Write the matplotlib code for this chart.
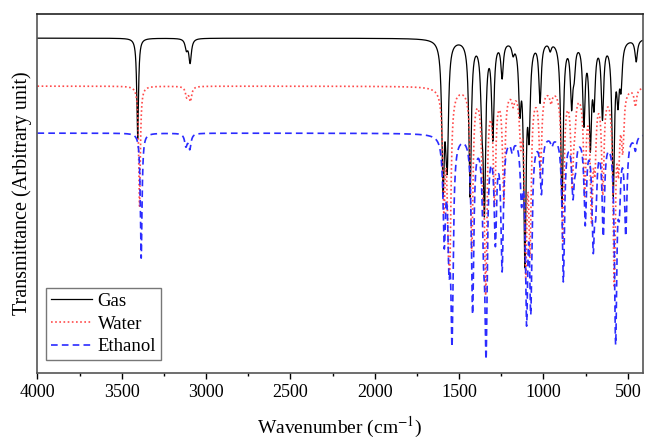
import numpy as np
import matplotlib
matplotlib.use("Agg")
import matplotlib.pyplot as plt
from matplotlib.ticker import MultipleLocator

plt.rcParams['font.family'] = ['Liberation Serif', 'DejaVu Serif']
plt.rcParams['mathtext.fontset'] = 'stix'

# ---- data: band positions (cm-1) and band intensities (arbitrary units) ----
series_names = ["Gas", "Water", "Ethanol"]
baselines = [335, 287, 240]

gas_pos = [3406, 3117, 3095, 1595, 1578, 1570, 1435, 1365, 1350, 1300, 1245, 1180,
           1140, 1110, 1085, 1020, 960, 890, 833, 818, 760, 722, 700, 650, 586,
           558, 540, 450]
gas_int = [100, 10, 24, 140, 35, 100, 155, 55, 160, 95, 35, 10,
           60, 215, 80, 60, 8, 165, 60, 25, 80, 100, 55, 75, 150,
           50, 40, 22]

water_pos = [3395, 3115, 3093, 1590, 1565, 1555, 1425, 1360, 1342, 1290, 1235, 1180,
             1135, 1105, 1080, 1018, 955, 885, 830, 815, 755, 715, 695, 648, 580,
             555, 530, 455]
water_int = [120, 10, 14, 110, 90, 140, 160, 70, 190, 110, 110, 12,
             45, 170, 150, 85, 12, 150, 90, 25, 100, 120, 65, 100, 190,
             65, 55, 18]

eth_pos = [3385, 3120, 3097, 1588, 1560, 1542, 1420, 1355, 1340, 1285, 1245, 1185,
           1130, 1100, 1075, 1012, 950, 882, 825, 810, 752, 705, 690, 645, 572,
           550, 512, 455]
eth_int = [125, 12, 15, 100, 100, 190, 175, 80, 200, 100, 130, 12,
           55, 170, 160, 55, 8, 145, 55, 22, 85, 100, 55, 95, 200,
           55, 95, 14]

wn = np.linspace(4000, 400, 7201)

def band_width(p):
    if p > 3300:
        return 6.0
    if p > 3000:
        return 9.0
    return 8.5

def spectrum(base, pos, inten):
    y = np.full_like(wn, float(base))
    for p, a in zip(pos, inten):
        g = band_width(p)
        y -= a * g**2 / ((wn - p)**2 + g**2)
    return y

fig = plt.figure(figsize=(6.46, 4.42), dpi=100)
ax = fig.add_axes([0.058, 0.156, 0.937, 0.812])

ax.plot(wn, spectrum(baselines[0], gas_pos, gas_int), color='black', lw=0.9,
        ls='-', label=series_names[0])
ax.plot(wn, spectrum(baselines[1], water_pos, water_int), color='#ff4a4a', lw=1.2,
        ls=(0, (1, 1.5)), label=series_names[1])
ax.plot(wn, spectrum(baselines[2], eth_pos, eth_int), color='#2b2bff', lw=1.2,
        ls=(0, (4, 2.5)), label=series_names[2])

ax.set_xlim(4000, 411)
ax.set_ylim(0, 359)
ax.xaxis.set_major_locator(MultipleLocator(500))
ax.xaxis.set_minor_locator(MultipleLocator(250))
ax.tick_params(axis='x', which='major', direction='out', length=4, width=1,
               labelsize=13, pad=4, top=False)
ax.tick_params(axis='x', which='minor', direction='out', length=2.5, width=1, top=False)
ax.set_yticks([])
for s in ax.spines.values():
    s.set_color('#555555')
    s.set_linewidth(1.2)
ax.spines['top'].set_color('#222222')

ax.set_xlabel('Wavenumber (cm$^{-1}$)', fontsize=14, labelpad=10)
ax.set_ylabel('Transmittance (Arbitrary unit)', fontsize=14.5, labelpad=4)

leg = ax.legend(loc='lower left', bbox_to_anchor=(0.014, 0.036), fontsize=13.5,
                frameon=True, fancybox=False, edgecolor='#555555',
                handlelength=2.2, handletextpad=0.3, borderpad=0.25,
                labelspacing=0.3, borderaxespad=0.0)
leg.get_frame().set_linewidth(1.0)

fig.savefig('out.png', dpi=100)
